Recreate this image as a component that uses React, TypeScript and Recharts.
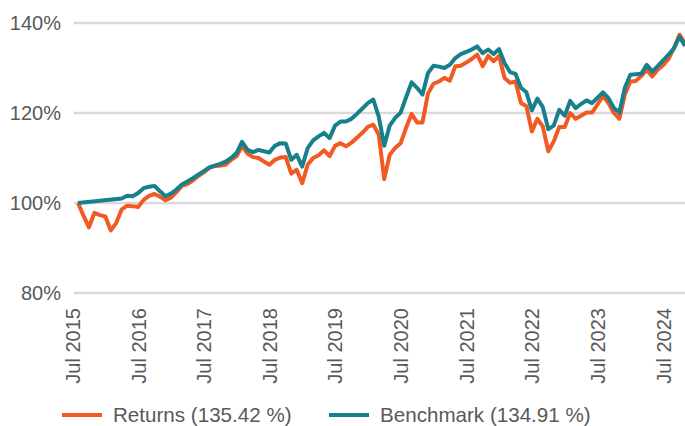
import React from 'react'
import { LineChart, Line, XAxis, YAxis, CartesianGrid, Legend } from 'recharts'

// monthly values, Jul 2015 .. Oct 2024 (index 0 = Jul 2015)
const RETURNS = [
  100, 97.2, 94.6, 97.8, 97.3, 97.0, 93.9, 95.6, 98.6, 99.4, 99.3, 99.1,
  100.7, 101.6, 102.0, 101.4, 100.6, 101.2, 102.4, 103.8, 104.2, 105.0, 106.0, 106.8,
  107.8, 108.2, 108.3, 108.5, 109.6, 110.4, 112.6, 111.0, 110.2, 110.0, 109.2, 108.5,
  109.6, 110.1, 110.2, 106.5, 107.4, 104.4, 108.5, 110.0, 110.6, 111.7, 110.4, 112.7,
  113.3, 112.6, 113.4, 114.5, 115.6, 116.9, 117.4, 115.2, 105.3, 110.7, 112.2, 113.3,
  116.7, 119.8, 117.9, 117.9, 124.3, 126.5, 127.0, 127.8, 127.2, 130.4, 130.5, 131.2,
  132.0, 133.0, 130.4, 132.7, 131.5, 132.7, 127.8, 126.7, 127.0, 122.2, 121.5, 115.9,
  118.7, 117.0, 111.5, 113.7, 116.9, 116.9, 120.0, 118.7, 119.4, 120.1, 120.1, 121.9,
  123.8, 122.2, 120.0, 118.7, 124.1, 127.0, 127.1, 128.2, 129.6, 128.1, 129.6, 130.6,
  132.0, 134.5, 137.4, 135.4,
]

const BENCHMARK = [
  100, null, null, null, null, null, null, null, 101.0, 101.6, 101.5, 102.2,
  103.3, 103.6, 103.8, 102.6, 101.5, 102.1, 103.0, 104.1, 104.8, 105.5, 106.3, 107.1,
  107.9, 108.3, 108.7, 109.2, 110.0, 111.1, 113.6, 111.8, 111.3, 111.8, 111.5, 111.2,
  112.7, 113.3, 113.2, 109.6, 110.7, 108.1, 112.2, 113.9, 114.8, 115.6, 114.4, 117.2,
  118.1, 118.1, 118.7, 119.8, 121.0, 122.2, 123.0, 119.2, 112.7, 117.2, 118.9, 120.1,
  123.5, 126.8, 125.6, 124.1, 128.9, 130.5, 130.3, 130.0, 130.7, 132.2, 133.1, 133.6,
  134.1, 134.8, 133.3, 134.1, 133.1, 134.2, 131.1, 129.1, 128.7, 125.6, 124.6, 120.6,
  123.2, 121.3, 116.4, 117.2, 120.7, 119.4, 122.7, 121.1, 122.0, 122.8, 122.2, 123.4,
  124.6, 123.3, 121.1, 120.1, 125.6, 128.5, 128.6, 128.7, 130.7, 129.2, 130.4, 131.7,
  133.0, 134.4, 137.0, 134.9,
]

const TICK_MONTHS = [0, 12, 24, 36, 48, 60, 72, 84, 96, 108]
const TICK_LABELS = ['Jul 2015', 'Jul 2016', 'Jul 2017', 'Jul 2018', 'Jul 2019', 'Jul 2020', 'Jul 2021', 'Jul 2022', 'Jul 2023', 'Jul 2024']
const Y_TICKS = [80, 100, 120, 140]

const RETURNS_LABEL = 'Returns (135.42 %)'
const BENCHMARK_LABEL = 'Benchmark (134.91 %)'

const ORANGE = '#F15A22'
const TEAL = '#17818B'
const TEXT = '#595959'
const FONT = "Arial, 'Liberation Sans', sans-serif"

const data = RETURNS.map((r, i) => ({ m: i, returns: r, benchmark: BENCHMARK[i] }))

function YearTick({ x, y, payload }: any) {
  const idx = TICK_MONTHS.indexOf(payload.value)
  return (
    <text
      x={x}
      y={y}
      dy={2}
      transform={`rotate(-90, ${x}, ${y})`}
      textAnchor="end"
      fill={TEXT}
      fontSize={20}
      fontFamily={FONT}
    >
      {TICK_LABELS[idx]}
    </text>
  )
}

function LegendContent() {
  const item = (left: number, color: string, label: string) => (
    <div style={{ position: 'absolute', left, top: 0, height: 22, display: 'flex', alignItems: 'center' }}>
      <span style={{ display: 'inline-block', width: 40, height: 4, background: color, marginRight: 11 }} />
      <span style={{ fontSize: 20.6, color: TEXT, fontFamily: FONT, whiteSpace: 'nowrap' }}>{label}</span>
    </div>
  )
  return (
    <div style={{ position: 'relative', width: 685, height: 22 }}>
      {item(62, ORANGE, RETURNS_LABEL)}
      {item(329, TEAL, BENCHMARK_LABEL)}
    </div>
  )
}

export default function App() {
  return (
    <div style={{ position: 'absolute', left: 0, top: 0, width: 685, height: 426, overflow: 'hidden', background: '#fff' }}>
      <LineChart width={685} height={426} data={data} margin={{ top: 23, right: 0, bottom: 0, left: 0 }}>
        <CartesianGrid vertical={false} stroke="#d9d9d9" strokeWidth={2.5} />
        <XAxis
          dataKey="m"
          type="number"
          domain={[-0.73, 111]}
          ticks={TICK_MONTHS}
          interval={0}
          allowDataOverflow
          axisLine={false}
          tickLine={false}
          tickMargin={9}
          height={111}
          tick={<YearTick />}
        />
        <YAxis
          domain={[80, 140]}
          ticks={Y_TICKS}
          allowDataOverflow
          width={74}
          axisLine={false}
          tickLine={false}
          tickMargin={7}
          tickFormatter={(v: number) => `${v}%`}
          tick={{ fill: TEXT, fontSize: 20, fontFamily: FONT }}
        />
        <Legend
          verticalAlign="bottom"
          height={22}
          content={<LegendContent />}
          wrapperStyle={{ left: 0, bottom: 0, width: 685, height: 22 }}
        />
        <Line
          type="linear"
          dataKey="returns"
          stroke={ORANGE}
          strokeWidth={4}
          dot={false}
          strokeLinejoin="round"
          isAnimationActive={false}
        />
        <Line
          type="linear"
          dataKey="benchmark"
          stroke={TEAL}
          strokeWidth={4}
          dot={false}
          connectNulls
          strokeLinejoin="round"
          isAnimationActive={false}
        />
      </LineChart>
    </div>
  )
}
